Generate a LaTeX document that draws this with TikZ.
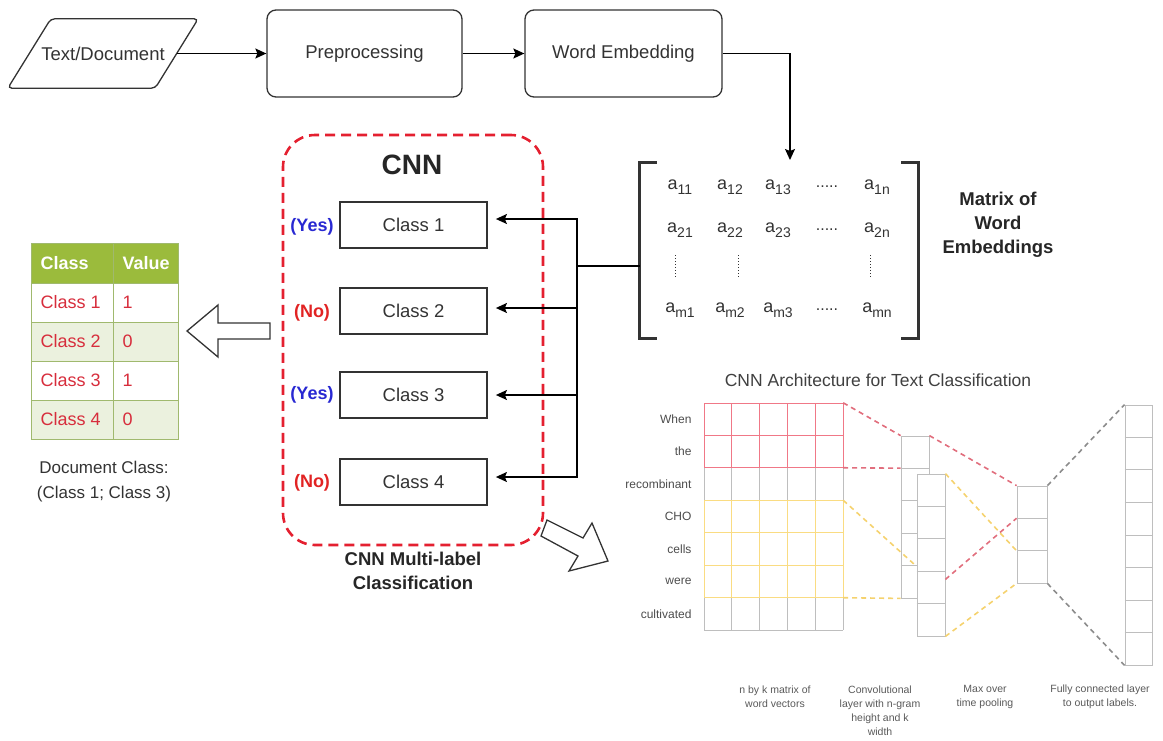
\documentclass[tikz,border=0pt]{standalone}
\usepackage{fontspec}
\setmainfont{Liberation Sans}
\usetikzlibrary{arrows.meta,calc}

\definecolor{inkgray}{RGB}{51,51,51}
\definecolor{cnnred}{RGB}{228,32,48}
\definecolor{yesblue}{RGB}{40,40,210}
\definecolor{nored}{RGB}{225,35,35}
\definecolor{tabgreen}{RGB}{155,187,60}
\definecolor{tablight}{RGB}{235,241,222}
\definecolor{tabline}{RGB}{160,185,110}
\definecolor{tabtext}{RGB}{215,45,60}
\definecolor{archgray}{RGB}{190,190,190}
\definecolor{archred}{RGB}{240,120,135}
\definecolor{archyellow}{RGB}{250,220,130}
\definecolor{dashred}{RGB}{225,110,125}
\definecolor{dashyellow}{RGB}{245,210,110}
\definecolor{dashgray}{RGB}{140,140,140}

\newcommand{\matsub}[1]{\raisebox{-4.5pt}{\fontsize{14}{14}\selectfont #1}}

\tikzset{
  flowbox/.style={draw=inkgray, line width=1.3pt, rounded corners=9pt, minimum height=87pt, text=inkgray, font=\fontsize{18.5}{22}\selectfont},
  classbox/.style={draw=black!80, line width=1.8pt, minimum width=147pt, minimum height=46pt, text=inkgray, font=\fontsize{18.5}{22}\selectfont},
  flowarrow/.style={draw=black, line width=1.3pt, -{Stealth[length=11pt,width=10pt,inset=2pt]}},
  mentry/.style={text=inkgray, font=\fontsize{18}{20}\selectfont},
  dotsnode/.style={text=inkgray, font=\fontsize{16}{16}\selectfont},
  yeslabel/.style={text=yesblue, font=\bfseries\fontsize{18}{20}\selectfont},
  nolabel/.style={text=nored, font=\bfseries\fontsize{18}{20}\selectfont},
  boldlabel/.style={text=black!85, align=center, font=\bfseries\fontsize{18.5}{24}\selectfont},
  tabhead/.style={anchor=west, text=white, font=\bfseries\fontsize{18}{20}\selectfont},
  tabcell/.style={anchor=west, text=tabtext, font=\fontsize{18}{20}\selectfont},
  hollow/.style={draw=inkgray, line width=1.3pt, fill=white, line join=miter},
  archline/.style={draw=archgray, line width=0.8pt},
  archcol/.style={archline, fill=white, minimum width=28pt, inner sep=0pt},
  archdash/.style={dash pattern=on 5pt off 4pt, line width=1.6pt},
  archword/.style={anchor=east, text=black!70, font=\fontsize{12}{14}\selectfont},
  archnote/.style={align=center, text=black!65, font=\fontsize{10.5}{14}\selectfont},
}

\begin{document}
\begin{tikzpicture}[x=1pt, y=-1pt]
  \useasboundingbox (0,0) rectangle (1163,740);
  % --- Pipeline ---
  \node[minimum width=147pt, minimum height=69pt, text=inkgray, font=\fontsize{18.5}{22}\selectfont] (doc) at (103,53.5) {Text/Document};
  \draw[inkgray, line width=1.3pt, rounded corners=4pt] ([xshift=-21.5pt]doc.south west) -- ([xshift=-21.5pt]doc.south east) -- ([xshift=21.5pt]doc.north east) -- ([xshift=21.5pt]doc.north west) -- cycle;
  \node[flowbox, minimum width=195pt] (prep) at (364.5,53.5) {Preprocessing};
  \node[flowbox, minimum width=197pt] (wemb) at (623.5,53.5) {Word Embedding};
  \coordinate (turn) at (790,53.5);
  \coordinate (mtop) at (790,160);
  \draw[flowarrow] (doc) -- (prep);
  \draw[flowarrow] (prep) -- (wemb);
  \draw[flowarrow] (wemb) -- (turn) -- (mtop);

  % --- Matrix of word embeddings ---
  \node[minimum width=278pt, minimum height=175pt] (emb) at (779,250.5) {};
  \draw[line width=3pt, inkgray] ([xshift=17pt]emb.north west) -- (emb.north west) -- (emb.south west) -- ([xshift=17pt]emb.south west);
  \draw[line width=3pt, inkgray] ([xshift=-17pt]emb.north east) -- (emb.north east) -- (emb.south east) -- ([xshift=-17pt]emb.south east);
  \foreach \c/\x in {1/680,2/730,3/778}{
    \node[mentry] (a1\c) at (\x,187) {a\matsub{1\c}};
    \node[mentry] (a2\c) at (\x,230) {a\matsub{2\c}};
    \node[mentry] (am\c) at (\x,310) {a\matsub{m\c}};
  }
  \node[mentry] (a1n) at (877,187) {a\matsub{1n}};
  \node[mentry] (a2n) at (877,230) {a\matsub{2n}};
  \node[mentry] (amn) at (877,310) {a\matsub{mn}};
  \foreach \r/\y in {1/187,2/230,m/310} \node[dotsnode] (d\r) at (827,\y) {.....};
  \foreach \x in {675,738,870} \draw[dotted, line width=1pt, inkgray] (\x,255) -- (\x,279);
  \node[boldlabel] (mlabel) at (998,225) {Matrix of\\Word\\Embeddings};

  % --- CNN multi-label classification ---
  \node[draw=cnnred, line width=2.6pt, dash pattern=on 10pt off 6pt, rounded corners=32pt, minimum width=260pt, minimum height=410pt] (cnn) at (413,340) {};
  \node[font=\bfseries\fontsize{28}{30}\selectfont, text=black!85] (cnntitle) at (412,165) {CNN};
  \foreach \i/\y in {1/225,2/311,3/395,4/482} \node[classbox] (c\i) at (413.5,\y) {Class \i};
  \node[yeslabel] (l1) at (312,227) {(Yes)};
  \node[nolabel] (l2) at (312,313) {(No)};
  \node[yeslabel] (l3) at (312,395) {(Yes)};
  \node[nolabel] (l4) at (312,483) {(No)};
  \node[boldlabel] (cnnlabel) at (413,571) {CNN Multi-label\\Classification};
  \coordinate (bus) at (577,266);
  \draw[line width=1.3pt] (emb.west |- bus) -- (bus);
  \foreach \i/\s in {1/6,2/3,3/0,4/5} \draw[flowarrow, shorten >=8pt] (bus) |- ([yshift=\s]c\i.east);

  % --- Result table ---
  \fill[tabgreen] (31,243) rectangle (178,283);
  \fill[tablight] (31,322) rectangle (178,361);
  \fill[tablight] (31,400) rectangle (178,439);
  \draw[tabline] (31,243) rectangle (178,439);
  \foreach \y in {283,322,361,400} \draw[tabline] (31,\y) -- (178,\y);
  \draw[tabline] (113,243) -- (113,439);
  \node[tabhead] (hclass) at (37,263) {Class};
  \node[tabhead] (hvalue) at (119,263) {Value};
  \foreach \i/\v in {1/1,2/0,3/1,4/0}{
    \node[tabcell] (k\i) at (37,{263.5+39*\i}) {Class \i};
    \node[tabcell] (v\i) at (119,{263.5+39*\i}) {\v};
  }
  \node[align=center, text=inkgray, font=\fontsize{17}{25}\selectfont] (docclass) at (104,482) {Document Class:\\(Class 1; Class 3)};

  % hollow arrows
  \draw[hollow] (270,323) -- (218,323) -- (218,305) -- (187,331) -- (218,357) -- (218,339) -- (270,339) -- cycle;
  \draw[hollow] (547,520) -- (583,538) -- (592,523) -- (608,561) -- (569,571) -- (578,556) -- (541,536) -- cycle;

  % --- CNN architecture for text classification ---
  \node[text=black!75, font=\fontsize{17.5}{20}\selectfont] (archtitle) at (878,380) {CNN Architecture for Text Classification};
  \node[minimum width=139pt, minimum height=227pt, inner sep=0pt] (wv) at (773.5,516.5) {};
  \foreach \k in {0,...,5} \draw[archline] ({704+27.8*\k},403) -- ({704+27.8*\k},630);
  \foreach \k in {0,...,7} \draw[archline] (704,{403+32.43*\k}) -- (843,{403+32.43*\k});
  \foreach \k in {0,...,5} \draw[archred, line width=0.8pt] ({704+27.8*\k},403) -- ({704+27.8*\k},467.9);
  \foreach \k in {0,1,2} \draw[archred, line width=0.8pt] (704,{403+32.43*\k}) -- (843,{403+32.43*\k});
  \foreach \k in {0,...,5} \draw[archyellow, line width=0.8pt] ({704+27.8*\k},500.3) -- ({704+27.8*\k},597.6);
  \foreach \k in {3,...,6} \draw[archyellow, line width=0.8pt] (704,{403+32.43*\k}) -- (843,{403+32.43*\k});
  \foreach \w [count=\i] in {When,the,recombinant,CHO,cells,were,cultivated} \node[archword] (w\i) at (695,{403+32.43*\i-16.2}) {\w};

  \node[archcol, minimum height=162pt] (convback) at (915,517) {};
  \foreach \k in {1,...,4} \draw[archline] ($(convback.north west)!\k/5!(convback.south west)$) -- ($(convback.north east)!\k/5!(convback.south east)$);
  \draw[archdash, dashred] (wv.north east) -- (convback.north west);
  \draw[archdash, dashred] ($(wv.north east)!2/7!(wv.south east)$) -- ($(convback.north west)!1/5!(convback.south west)$);
  \node[archcol, minimum height=162pt] (convfront) at (931,555) {};
  \foreach \k in {1,...,4} \draw[archline] ($(convfront.north west)!\k/5!(convfront.south west)$) -- ($(convfront.north east)!\k/5!(convfront.south east)$);
  \draw[archdash, dashyellow] ($(wv.north east)!3/7!(wv.south east)$) -- ($(convfront.north west)!0.57!(convfront.south west)$);
  \draw[archdash, dashyellow] ($(wv.north east)!6/7!(wv.south east)$) -- (convback.south west);
  \node[archcol, minimum width=30pt, minimum height=97pt] (pool) at (1032,534.5) {};
  \foreach \k in {1,2} \draw[archline] ($(pool.north west)!\k/3!(pool.south west)$) -- ($(pool.north east)!\k/3!(pool.south east)$);
  \node[archcol, minimum width=27pt, minimum height=260pt] (fc) at (1138.5,535) {};
  \foreach \k in {1,...,7} \draw[archline] ($(fc.north west)!\k/8!(fc.south west)$) -- ($(fc.north east)!\k/8!(fc.south east)$);
  \draw[archdash, dashred] (convback.north east) -- (pool.north west);
  \draw[archdash, dashred] ($(convfront.north east)!0.65!(convfront.south east)$) -- ($(pool.north west)!1/3!(pool.south west)$);
  \draw[archdash, dashyellow] (convfront.north east) -- ($(pool.north west)!2/3!(pool.south west)$);
  \draw[archdash, dashyellow] (convfront.south east) -- (pool.south west);
  \draw[archdash, dashgray] (pool.north east) -- (fc.north west);
  \draw[archdash, dashgray] (pool.south east) -- (fc.south west);

  \node[archnote] (n1) at (775,696.5) {n by k matrix of\\word vectors};
  \node[archnote] (n2) at (880,710.5) {Convolutional\\layer with n-gram\\height and k\\width};
  \node[archnote] (n3) at (985,696.5) {Max over\\time pooling};
  \node[archnote] (n4) at (1100,696.5) {Fully connected layer\\to output labels.};
\end{tikzpicture}
\end{document}
